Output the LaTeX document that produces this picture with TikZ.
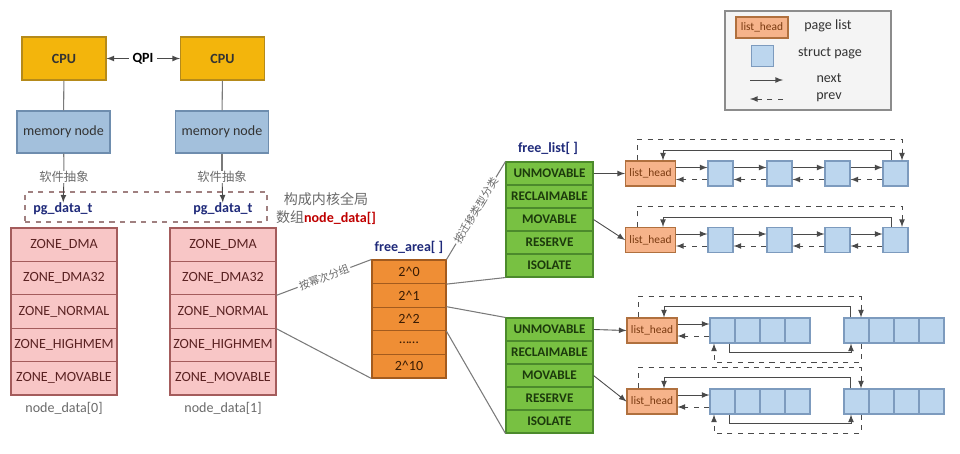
\documentclass[tikz,border=0pt]{standalone}
\usepackage{fontspec}
\setmainfont{Carlito}
\newfontfamily\cjk{Noto Sans CJK SC}
\usepackage{xcolor}

\definecolor{cpufill}{HTML}{F3B50C}
\definecolor{cpuline}{HTML}{B58A1A}
\definecolor{memfill}{HTML}{A3C0DC}
\definecolor{memline}{HTML}{6E8DAE}
\definecolor{zonefill}{HTML}{F8C6C6}
\definecolor{zoneline}{HTML}{A45C5C}
\definecolor{zonetext}{HTML}{5A2222}
\definecolor{ordfill}{HTML}{EF8E35}
\definecolor{ordline}{HTML}{A35B1E}
\definecolor{ordtext}{HTML}{3A1C04}
\definecolor{typefill}{HTML}{78C142}
\definecolor{typeline}{HTML}{4C8A2C}
\definecolor{typetext}{HTML}{1C3A0C}
\definecolor{headfill}{HTML}{F6B38A}
\definecolor{headline}{HTML}{B0703E}
\definecolor{headtext}{HTML}{7A3A10}
\definecolor{pagefill}{HTML}{BCD6EE}
\definecolor{pageline}{HTML}{7D9BBE}
\definecolor{navytext}{HTML}{1F2A7A}
\definecolor{linkgray}{HTML}{7A7A7A}
\definecolor{loopgray}{HTML}{4A4A4A}
\definecolor{labgray}{HTML}{6A6A6A}
\definecolor{legfill}{HTML}{F4F4F4}
\definecolor{legline}{HTML}{8C8C8C}
\definecolor{frameline}{HTML}{A08080}

\tikzset{
  cpubox/.style={draw=cpuline, fill=cpufill, line width=0.6pt, minimum width=1.68cm,
    minimum height=0.86cm, font=\bfseries\fontsize{8}{9.6}\selectfont, text=black!80},
  memnode/.style={draw=memline, fill=memfill, line width=0.6pt, minimum width=1.86cm,
    minimum height=0.84cm, text=black!80},
  pgframe/.style={draw=frameline, dashed, line width=0.6pt, minimum width=4.84cm, minimum height=0.6cm},
  pgname/.style={font=\bfseries\fontsize{8}{9.6}\selectfont, text=navytext},
  zonecell/.style={draw=zoneline, fill=zonefill, line width=0.6pt, minimum width=2.12cm,
    minimum height=0.668cm, text=zonetext},
  ordercell/.style={draw=ordline, fill=ordfill, line width=0.6pt, minimum width=1.48cm,
    minimum height=0.472cm, text=ordtext},
  typecell/.style={draw=typeline, fill=typefill, line width=0.6pt, minimum width=1.74cm,
    minimum height=0.46cm, text=typetext, font=\bfseries\fontsize{7.5}{9}\selectfont},
  headbox/.style={draw=headline, fill=headfill, line width=0.6pt, minimum width=1cm,
    minimum height=0.5cm, text=headtext, font=\fontsize{6.5}{8}\selectfont},
  pagebox/.style={draw=pageline, fill=pagefill, line width=0.6pt, minimum size=0.5cm},
  cnlabel/.style={font=\cjk\fontsize{7}{8}\selectfont, text=labgray},
  slopelabel/.style={sloped, fill=white, inner sep=1pt, font=\cjk\fontsize{6}{7}\selectfont, text=labgray},
  link/.style={draw=linkgray, line width=0.6pt},
  nextarrow/.style={draw=loopgray, line width=0.5pt, -latex},
  prevarrow/.style={draw=loopgray, line width=0.5pt, dashed, -latex},
}

\begin{document}
\begin{tikzpicture}[x=0.02cm, y=-0.02cm,
  every node/.style={inner sep=0pt, font=\fontsize{8}{9.6}\selectfont}]
\useasboundingbox (0,0) rectangle (960,453);

%cpus and memory nodes
\node[cpubox] (cpu1) at (64,58.5) {CPU};
\node[cpubox] (cpu2) at (222.5,58.5) {CPU};
\node[font=\bfseries\fontsize{8}{9.6}\selectfont] (qpi) at (143,58.5) {QPI};
\draw[nextarrow, shorten <=2pt] (qpi) -- (cpu1);
\draw[nextarrow, shorten <=2pt] (qpi) -- (cpu2);
\node[memnode] (mem1) at (63.5,132) {memory node};
\node[memnode] (mem2) at (222,132) {memory node};
\draw[link] (cpu1) -- (mem1);
\draw[link] (cpu2) -- (mem2);

%software abstraction
\node[cnlabel] (abs1) at (64,177) {软件抽象};
\node[cnlabel] (abs2) at (222,177) {软件抽象};
\draw[link] (mem1) -- (abs1);
\draw[link] (mem2) -- (abs2);
\node[pgframe] (frame) at (146,207) {};
\node[pgname] (pg1) at (63,209) {pg\_data\_t};
\node[pgname] (pg2) at (223,209) {pg\_data\_t};
\draw[nextarrow] (abs1) -- (pg1);
\draw[nextarrow] (abs2) -- (pg2);
\node[align=center, font=\fontsize{8}{10.2}\selectfont, text=labgray] (global) at (326,209)
  {{\cjk 构成内核全局}\\{\cjk 数组}\textcolor{red!75!black}{\bfseries node\_data[]}};

%zone tables
\foreach \z [count=\i from 0] in {ZONE\_DMA,ZONE\_DMA32,ZONE\_NORMAL,ZONE\_HIGHMEM,ZONE\_MOVABLE} {
  \node[zonecell] (za\i) at (64,{244.7+33.4*\i}) {\z};
  \node[zonecell] (zb\i) at (223,{244.7+33.4*\i}) {\z};
}
\node[text=labgray] (nd0) at (64,408) {node\_data[0]};
\node[text=labgray] (nd1) at (223,408) {node\_data[1]};

%free_area
\node[pgname] (fatitle) at (409,247) {free\_area[ ]};
\foreach \o [count=\i from 0] in {2\textasciicircum 0,2\textasciicircum 1,2\textasciicircum 2,……,2\textasciicircum 10}
  \node[ordercell] (fa\i) at (409,{271.8+23.6*\i}) {\o};
\draw[link] (zb1.south east) -- node[slopelabel] {按幂次分组} (fa0.north west);
\draw[link] (zb2.south east) -- (fa4.south west);

%free_list
\node[pgname] (fltitle) at (548,148) {free\_list[ ]};
\foreach \t [count=\i from 0] in {UNMOVABLE,RECLAIMABLE,MOVABLE,RESERVE,ISOLATE} {
  \node[typecell] (ga\i) at (549.5,{173.5+23*\i}) {\t};
  \node[typecell] (gb\i) at (549.5,{329.5+23*\i}) {\t};
}
\draw[link] (fa0.north east) -- node[slopelabel] {按迁移类型分类} (ga0.north west);
\draw[link] (fa0.south east) -- (ga4.south west);
\draw[link] (fa2.north east) -- (gb0.north west);
\draw[link] (fa2.south east) -- (gb4.south west);

%single page lists
\foreach \y/\r in {173.5/a,240/b} {
  \node[headbox] (h\r) at (650.5,\y) {list\_head};
  \foreach \x [count=\k] in {720.5,779.5,837.5,895.5}
    \node[pagebox] (p\r\k) at (\x,\y) {};
  \draw[nextarrow] ([yshift=.12cm]h\r.east) -- ([yshift=.12cm]p\r1.west);
  \draw[prevarrow] ([yshift=-.12cm]p\r1.west) -- ([yshift=-.12cm]h\r.east);
  \foreach \k/\j in {1/2,2/3,3/4} {
    \draw[nextarrow] ([yshift=.12cm]p\r\k.east) -- ([yshift=.12cm]p\r\j.west);
    \draw[prevarrow] ([yshift=-.12cm]p\r\j.west) -- ([yshift=-.12cm]p\r\k.east);
  }
  \draw[nextarrow] ([xshift=-.09cm]p\r4.north) -- ++(0,.2cm) -| ([xshift=.25cm]h\r.north);
  \draw[prevarrow] ([xshift=-.27cm]h\r.north) -- ++(0,.42cm) -| ([xshift=.13cm]p\r4.north);
}
\draw[nextarrow] (ga0.east) -- (ha.west);
\draw[nextarrow] (ga2.east) -- (hb.west);

%block page lists
\foreach \y/\r in {330.5/c,401.5/d} {
  \node[headbox] (h\r) at (652,\y) {list\_head};
  \foreach \k in {1,...,4} {
    \node[pagebox] (p\r\k) at ({697.5+25*\k},\y) {};
    \node[pagebox] (q\r\k) at ({831.5+25*\k},\y) {};
  }
  \draw[nextarrow] ([yshift=.13cm]h\r.east) -- ([yshift=.13cm]p\r1.west);
  \draw[prevarrow] ([yshift=-.11cm]p\r1.west) -- ([yshift=-.11cm]h\r.east);
  \draw[nextarrow] ([xshift=-.13cm]q\r1.north) -- ++(0,.22cm) -| ([xshift=.24cm]h\r.north);
  \draw[prevarrow] ([xshift=-.28cm]h\r.north) -- ++(0,.42cm) -| ([xshift=.09cm]q\r1.north);
  \draw[nextarrow] ([xshift=.13cm]p\r1.south) -- ++(0,-.18cm) -| ([xshift=-.11cm]q\r1.south);
  \draw[prevarrow] ([xshift=.09cm]q\r1.south) -- ++(0,-.38cm) -| ([xshift=-.17cm]p\r1.south);
}
\draw[nextarrow] (gb0.east) -- (hc.west);
\draw[nextarrow] (gb2.east) -- (hd.west);

%legend
\node[draw=legline, fill=legfill, line width=0.6pt, minimum width=3.32cm, minimum height=1.98cm] (legend) at (808,60.5) {};
\node[headbox, minimum width=1.04cm, minimum height=0.42cm] (lghead) at (762,27.5) {list\_head};
\node[text=black!80] (lgheadtxt) at (828,26) {page list};
\node[pagebox, minimum size=0.43cm] (lgpage) at (762.5,56) {};
\node[text=black!80] (lgpagetxt) at (830,53) {struct page};
\coordinate (nxa) at (750,80);
\coordinate (nxb) at (783,80);
\draw[nextarrow] (nxa) -- (nxb);
\node[text=black!80] (lgnext) at (829,78) {next};
\coordinate (pva) at (783,99);
\coordinate (pvb) at (750,99);
\draw[prevarrow] (pva) -- (pvb);
\node[text=black!80] (lgprev) at (829,97) {prev};
\end{tikzpicture}
\end{document}
